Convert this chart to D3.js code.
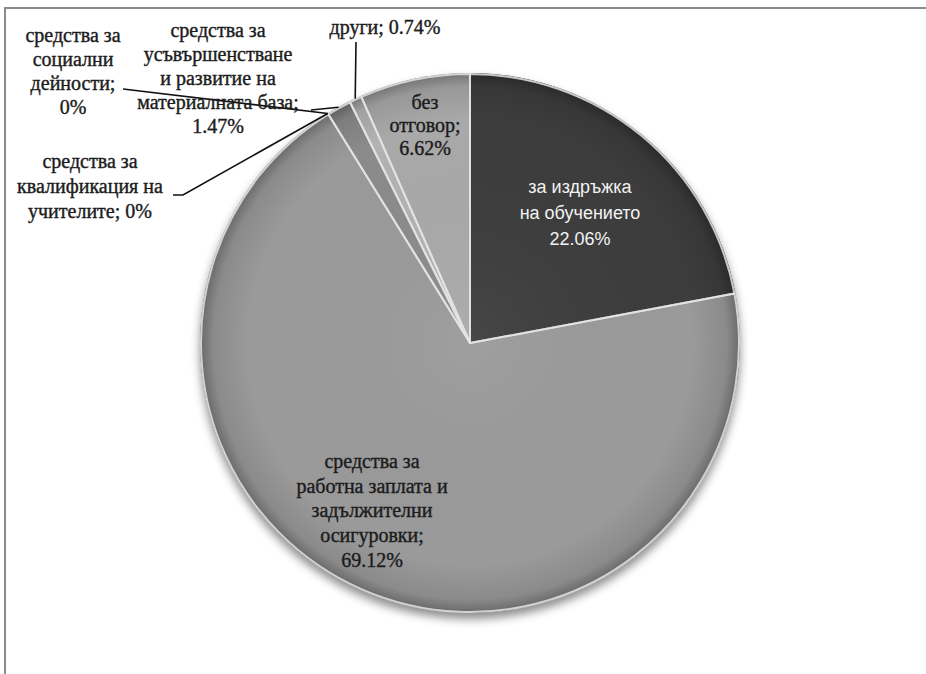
<!DOCTYPE html>
<html>
<head>
<meta charset="utf-8">
<script src="https://cdn.jsdelivr.net/npm/d3@7"></script>
<style>
  body { margin: 0; background: #fff; }
  .serif { font-family: "Liberation Serif", "DejaVu Serif", serif; }
  .sans { font-family: "Liberation Sans", "DejaVu Sans", sans-serif; }
</style>
</head>
<body>
<div id="chart"></div>
<script>
// data, clockwise from 12 o'clock
var categories = [
  ["за издръжка", "на обучението"],
  ["средства за", "работна заплата и", "задължителни", "осигуровки;"],
  ["средства за", "квалификация на", "учителите;"],
  ["средства за", "социални", "дейности;"],
  ["средства за", "усъвършенстване", "и развитие на", "материалната база;"],
  ["други;"],
  ["без", "отговор;"]
];
var values = [22.06, 69.12, 0, 0, 1.47, 0.74, 6.62];
var valueInline = [false, false, true, false, false, true, false];

var sliceColors = ["#3e3e3e", "#9a9a9a", "#8f8f8f", "#8f8f8f", "#8b8b8b", "#b2b2b2", "#a9a9a9"];

// label placement (layout only)
var labelPos = [
  {x: 580, y: 193, dy: 26, font: "sans", color: "#f2f2f2"},
  {x: 372, y: 468, dy: 24.7},
  {x: 90, y: 168, dy: 25},
  {x: 73, y: 42, dy: 24},
  {x: 218, y: 37, dy: 24},
  {x: 385, y: 34, dy: 24},
  {x: 425, y: 109, dy: 23}
];
// leader line starts (null = no leader)
var leaderFrom = [null, null, [[173, 195], [183, 195]], [[123, 89]], [[311, 110]], [[356, 42]], null];

var width = 926, height = 674;
var cx = 470, cy = 343, radius = 270;

var svg = d3.select("#chart")
    .append("svg")
    .attr("width", width)
    .attr("height", height);

var defs = svg.append("defs");

var shadow = defs.append("filter")
    .attr("id", "shadow")
    .attr("x", "-10%").attr("y", "-10%")
    .attr("width", "120%").attr("height", "125%");
shadow.append("feDropShadow")
    .attr("dx", 0).attr("dy", 6)
    .attr("stdDeviation", 5)
    .attr("flood-color", "#000")
    .attr("flood-opacity", 0.45);

// gradient lives in the pie group's own coordinates (centre at 0,0)
var rim = defs.append("radialGradient")
    .attr("id", "rim")
    .attr("gradientUnits", "userSpaceOnUse")
    .attr("cx", 0).attr("cy", 0).attr("r", radius);
rim.append("stop").attr("offset", "0%").attr("stop-color", "#fff").attr("stop-opacity", 0.05);
rim.append("stop").attr("offset", "82%").attr("stop-color", "#000").attr("stop-opacity", 0);
rim.append("stop").attr("offset", "95%").attr("stop-color", "#000").attr("stop-opacity", 0.1);
rim.append("stop").attr("offset", "100%").attr("stop-color", "#000").attr("stop-opacity", 0.32);

// frame (only top and left edges fall inside the picture)
svg.append("rect")
    .attr("x", 5).attr("y", 8)
    .attr("width", width + 20).attr("height", height + 20)
    .attr("fill", "none")
    .attr("stroke", "#8a8a8a")
    .attr("stroke-width", 2);

var pie = d3.pie().sort(null).value(function(d) { return d; });
var arcs = pie(values);

var arc = d3.arc().innerRadius(0).outerRadius(radius);
var edge = d3.arc().innerRadius(radius).outerRadius(radius);

var g = svg.append("g")
    .attr("transform", "translate(" + cx + "," + cy + ")");

var slices = g.append("g").attr("filter", "url(#shadow)");

slices.selectAll("path.slice")
    .data(arcs)
    .enter()
    .append("path")
    .attr("class", "slice")
    .attr("d", arc)
    .attr("fill", function(d, i) { return sliceColors[i]; });

// rim shading
g.append("g").selectAll("path.shade")
    .data(arcs.filter(function(d) { return d.value > 0; }))
    .enter()
    .append("path")
    .attr("class", "shade")
    .attr("d", arc)
    .attr("fill", "url(#rim)");

// bevel highlight along slice edges
g.append("g").selectAll("path.edge")
    .data(arcs.filter(function(d) { return d.value > 0; }))
    .enter()
    .append("path")
    .attr("class", "edge")
    .attr("d", d3.arc().innerRadius(0).outerRadius(radius - 1))
    .attr("fill", "none")
    .attr("stroke", "#e4e4e4")
    .attr("stroke-opacity", 0.85)
    .attr("stroke-width", 2)
    .attr("stroke-linejoin", "round");

// leader lines
arcs.forEach(function(d, i) {
    if (!leaderFrom[i]) return;
    var p = edge.centroid(d);
    var pts = leaderFrom[i].map(function(q) { return [q[0], q[1]]; });
    pts.push([p[0] + cx, p[1] + cy]);
    svg.append("path")
        .attr("d", d3.line()(pts))
        .attr("fill", "none")
        .attr("stroke", "#111")
        .attr("stroke-width", 1.6);
});

// labels
arcs.forEach(function(d, i) {
    var lp = labelPos[i];
    var lines = categories[i].slice();
    var pct = d.value + "%";
    if (valueInline[i]) lines[lines.length - 1] += " " + pct;
    else lines.push(pct);

    var col = lp.color || "#1c1c1c";
    var t = svg.append("text")
        .attr("class", lp.font === "sans" ? "sans" : "serif")
        .attr("text-anchor", "middle")
        .attr("fill", col)
        .attr("stroke", lp.font === "sans" ? "none" : col)
        .attr("stroke-width", 0.4)
        .style("font-size", lp.font === "sans" ? "18px" : "20px");

    lines.forEach(function(s, k) {
        t.append("tspan")
            .attr("x", lp.x)
            .attr("y", lp.y + k * lp.dy)
            .text(s);
    });
});
</script>
</body>
</html>
